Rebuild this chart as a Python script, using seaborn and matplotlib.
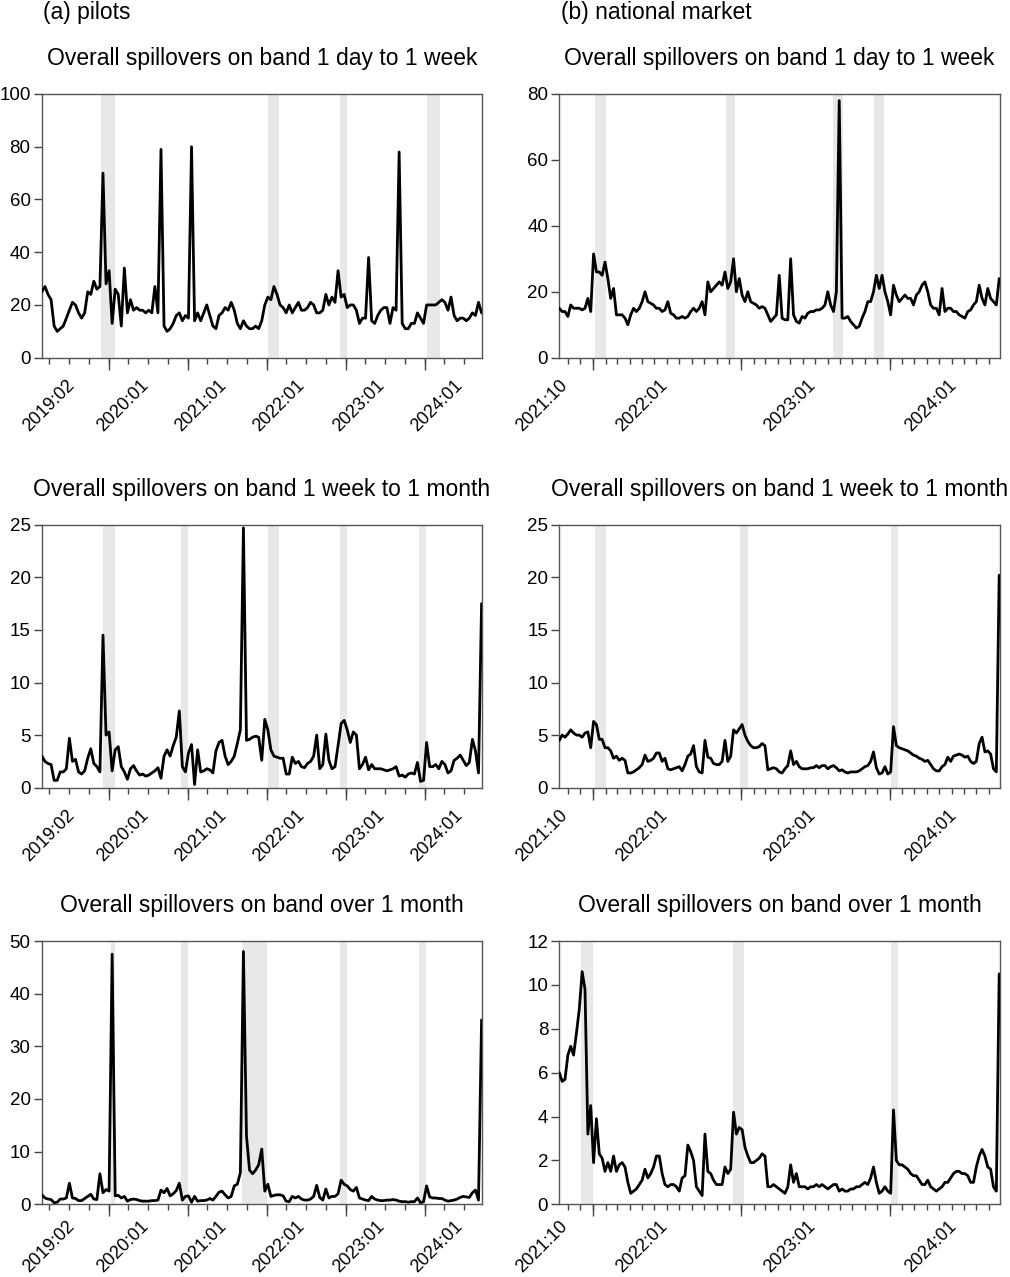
import pandas as pd
import matplotlib
matplotlib.use("Agg")
import matplotlib.pyplot as plt
import matplotlib.dates as mdates
import seaborn as sns

sns.set_theme(style="white")
plt.rcParams["font.family"] = ["Liberation Sans", "DejaVu Sans"]
plt.rcParams["text.color"] = "black"
plt.rcParams["xtick.color"] = "#444444"
plt.rcParams["ytick.color"] = "#444444"
plt.rcParams["xtick.labelcolor"] = "black"
plt.rcParams["ytick.labelcolor"] = "black"

# ---- dates (bi-weekly for pilots, weekly for national market) ----
pilot_dates = pd.date_range("2019-02-27", "2024-09-20", periods=145)
national_dates = pd.date_range("2021-10-10", "2024-09-26", periods=155)

# ---- (a) pilots ----
pilot_short = [
    25, 27, 24, 22, 12, 10, 11, 12, 15, 18, 21, 20, 17, 15, 17, 25, 24, 29, 26, 27,
    70, 28, 33, 13, 26, 24, 12, 34, 17, 22, 18, 19, 18, 18, 17, 18, 17, 27, 17, 79,
    12, 10, 11, 13, 16, 17, 14, 16, 15, 80, 14, 17, 14, 17, 20, 16, 12, 11, 16, 17,
    19, 18, 21, 18, 13, 11, 14, 12, 11, 11, 12, 11, 14, 20, 23, 22, 27, 24, 20, 19,
    17, 20, 17, 19, 21, 18, 18, 19, 21, 20, 17, 17, 18, 24, 20, 23, 21, 33, 23, 24,
    19, 20, 20, 18, 13, 15, 15, 38, 14, 13, 16, 18, 19, 19, 13, 19, 18, 78, 13, 11,
    11, 13, 13, 17, 15, 13, 20, 20, 20, 20, 21, 22, 21, 18, 23, 16, 14, 15, 15, 14,
    15, 17, 16, 21, 17,
]
pilot_mid = [
    3.0, 2.5, 2.3, 2.2, 0.7, 0.7, 1.5, 1.5, 1.8, 4.7, 2.5, 2.7, 1.5, 1.3, 1.6, 2.8, 3.7, 2.3, 2.0, 1.5,
    14.5, 5.0, 5.3, 1.6, 3.6, 3.9, 2.0, 1.5, 0.8, 1.8, 2.1, 1.6, 1.2, 1.3, 1.1, 1.2, 1.4, 1.6, 1.9, 0.9,
    3.0, 3.6, 3.0, 4.0, 4.8, 7.3, 2.0, 1.5, 3.3, 4.1, 0.3, 3.6, 1.5, 1.6, 1.8, 1.7, 1.4, 3.5, 4.3, 4.5,
    3.0, 2.2, 2.5, 3.0, 4.2, 5.5, 24.7, 4.5, 4.6, 4.8, 4.9, 4.8, 2.6, 6.5, 5.5, 3.6, 3.0, 2.9, 2.8, 2.8,
    1.3, 1.3, 2.9, 2.3, 2.5, 2.0, 1.9, 2.3, 2.5, 3.0, 5.0, 1.8, 2.2, 5.1, 2.6, 1.8, 2.0, 4.0, 6.1, 6.4,
    5.5, 4.3, 5.3, 5.0, 1.8, 2.2, 2.9, 1.7, 2.2, 1.8, 1.8, 1.8, 1.7, 1.6, 1.7, 1.8, 2.0, 1.1, 1.2, 1.0,
    1.3, 1.4, 1.3, 2.4, 0.6, 0.7, 4.3, 2.0, 2.0, 2.2, 1.8, 2.5, 2.2, 1.4, 1.6, 2.6, 2.8, 3.1, 2.6, 2.1,
    2.4, 4.6, 3.5, 1.4, 17.5,
]
pilot_long = [
    1.8, 1.2, 1.0, 0.9, 0.3, 0.4, 1.0, 1.0, 1.2, 4.0, 1.2, 1.1, 0.7, 0.7, 1.1, 1.5, 1.9, 1.0, 0.9, 5.8,
    2.2, 2.8, 2.5, 47.5, 1.6, 1.7, 1.2, 1.5, 0.6, 0.9, 1.0, 0.9, 0.7, 0.6, 0.6, 0.6, 0.7, 0.7, 0.8, 2.7,
    2.2, 3.0, 1.6, 2.0, 2.6, 4.0, 0.8, 1.5, 1.6, 0.4, 1.5, 0.6, 0.7, 0.7, 0.8, 1.1, 0.8, 1.5, 2.3, 2.5,
    1.8, 1.2, 1.5, 3.5, 3.8, 6.0, 48.0, 13.0, 6.5, 5.8, 6.5, 7.5, 10.5, 2.5, 3.8, 1.5, 1.7, 1.8, 1.8, 1.6,
    0.6, 0.5, 1.5, 1.2, 1.5, 1.0, 0.8, 0.8, 1.0, 1.5, 3.6, 1.3, 0.8, 2.9, 1.2, 1.5, 1.5, 2.0, 4.6, 3.8,
    3.5, 2.8, 2.5, 3.2, 1.2, 1.0, 0.8, 0.7, 1.5, 1.0, 0.8, 0.7, 0.7, 0.8, 0.8, 0.9, 0.8, 0.6, 0.5, 0.5,
    0.4, 0.5, 0.5, 1.2, 0.3, 0.5, 3.5, 1.4, 1.2, 1.2, 1.1, 1.1, 0.8, 0.6, 0.7, 0.8, 1.0, 1.3, 1.5, 1.4,
    1.3, 2.2, 2.7, 0.8, 35.0,
]

# ---- (b) national market ----
national_short = [
    15, 14, 14, 12.5, 16, 15, 15, 15, 14.5, 15, 18, 14, 31.5, 26, 26, 25, 29, 24, 18, 21,
    13, 13, 13, 12, 10, 13, 15, 14, 15, 17, 20, 17, 16.5, 16, 15, 15, 14, 14.5, 17, 13.5,
    13, 12, 12, 12.5, 12, 12.5, 14, 15, 14, 15, 17, 13, 23, 20, 21, 22, 23, 22, 26, 21,
    23, 30, 20, 24, 19, 17, 20, 17, 16.5, 16, 15, 15.5, 15, 13, 11, 12, 13, 25, 12, 11.5,
    11.5, 30, 13, 11, 10.5, 12.5, 12, 13.5, 14, 14, 14.5, 14.5, 15, 16, 20, 16, 14, 20, 78, 12,
    12, 12.5, 11, 10, 9, 9.5, 12, 14, 17, 17, 20, 25, 21, 25, 20, 17, 13, 22, 19, 17,
    18, 19, 18, 18, 16, 19, 20, 22, 23, 20, 16, 15, 15, 13, 21, 14, 15, 15, 14, 14,
    13, 12.5, 12, 14, 14.5, 16, 17, 22, 18, 16, 21, 18, 17, 16, 24,
]
national_mid = [
    4.5, 5.0, 4.8, 5.1, 5.5, 5.2, 5.0, 5.0, 4.8, 5.2, 5.3, 3.8, 6.3, 6.0, 4.6, 4.6, 3.8, 3.8, 3.5, 2.8,
    3.0, 2.6, 2.8, 2.6, 1.4, 1.4, 1.5, 1.7, 1.9, 2.2, 3.1, 2.5, 2.6, 2.8, 3.3, 3.3, 2.5, 2.8, 1.8, 1.7,
    1.8, 1.9, 2.0, 1.6, 2.2, 3.0, 3.2, 4.0, 2.0, 1.5, 1.4, 4.5, 2.9, 2.8, 2.3, 2.2, 2.2, 2.5, 4.5, 2.5,
    3.0, 5.5, 5.2, 5.6, 6.0, 5.0, 4.4, 4.0, 3.8, 3.8, 3.9, 4.2, 4.0, 1.7, 1.8, 1.9, 1.8, 1.5, 1.4, 1.8,
    2.1, 3.5, 2.2, 2.5, 2.0, 1.8, 1.8, 1.8, 1.9, 1.9, 2.1, 1.9, 2.1, 2.1, 1.8, 2.0, 2.1, 1.9, 1.6, 1.7,
    1.5, 1.4, 1.5, 1.5, 1.5, 1.6, 1.8, 2.0, 2.1, 2.5, 3.4, 1.9, 1.3, 1.4, 2.0, 1.3, 1.5, 5.8, 4.0, 3.8,
    3.7, 3.6, 3.5, 3.3, 3.1, 3.0, 2.8, 2.7, 2.5, 2.6, 2.2, 1.8, 1.6, 1.6, 2.0, 2.2, 2.9, 2.5, 3.0, 3.1,
    3.2, 3.1, 2.9, 3.0, 2.5, 2.3, 2.5, 4.2, 4.8, 3.4, 3.5, 3.2, 1.8, 1.5, 20.2,
]
national_long = [
    6.0, 5.6, 5.7, 6.8, 7.2, 6.8, 7.8, 8.9, 10.6, 9.8, 3.2, 4.5, 1.9, 3.9, 2.3, 2.1, 1.5, 1.9, 1.5, 2.2,
    1.5, 1.8, 1.9, 1.7, 1.0, 0.5, 0.6, 0.7, 0.9, 1.1, 1.6, 1.2, 1.4, 1.7, 2.2, 2.2, 1.4, 0.9, 0.8, 0.9,
    0.9, 0.8, 0.6, 1.2, 1.3, 2.7, 2.4, 2.0, 0.8, 0.6, 0.4, 3.2, 1.5, 1.4, 1.1, 0.9, 0.9, 0.9, 1.7, 1.4,
    1.6, 4.2, 3.2, 3.5, 3.4, 2.6, 2.2, 1.9, 1.9, 2.0, 2.1, 2.3, 2.2, 0.8, 0.8, 0.9, 0.8, 0.7, 0.6, 0.5,
    0.8, 1.8, 1.0, 1.4, 0.8, 0.8, 0.8, 0.7, 0.8, 0.8, 0.9, 0.8, 0.9, 0.8, 0.7, 0.8, 0.9, 0.9, 0.6, 0.7,
    0.6, 0.6, 0.7, 0.7, 0.8, 0.8, 0.9, 1.0, 0.9, 1.2, 1.7, 1.0, 0.5, 0.6, 0.8, 0.6, 0.5, 4.3, 2.0, 1.8,
    1.8, 1.7, 1.6, 1.4, 1.3, 1.3, 1.1, 0.9, 0.9, 1.1, 0.8, 0.7, 0.6, 0.7, 0.8, 1.0, 1.0, 1.2, 1.4, 1.5,
    1.5, 1.4, 1.4, 1.3, 1.0, 1.0, 1.7, 2.2, 2.5, 2.2, 1.7, 1.6, 0.8, 0.6, 10.5,
]

# ---- shaded periods ----
bands_pilot_short = [("2019-11-25", "2020-01-30"), ("2022-01-07", "2022-02-25"),
                     ("2022-12-05", "2023-01-09"), ("2024-01-12", "2024-03-14")]
bands_pilot_mid = [("2019-12-08", "2020-01-30"), ("2020-12-01", "2021-01-02"),
                   ("2022-01-07", "2022-02-25"), ("2022-12-05", "2023-01-09"),
                   ("2023-12-08", "2024-01-09")]
bands_pilot_long = [("2020-01-10", "2020-01-31"), ("2020-12-01", "2021-01-02"),
                    ("2021-09-09", "2022-01-04"), ("2022-12-05", "2023-01-09"),
                    ("2023-12-08", "2024-01-09")]
bands_nat_short = [("2022-01-06", "2022-02-03"), ("2022-11-24", "2022-12-17"),
                   ("2023-08-15", "2023-09-09"), ("2023-11-23", "2023-12-17")]
bands_nat_mid = [("2022-01-06", "2022-02-03"), ("2022-12-28", "2023-01-17"),
                 ("2024-01-05", "2024-01-22")]
bands_nat_long = [("2021-12-03", "2021-12-31"), ("2022-12-11", "2023-01-07"),
                  ("2024-01-05", "2024-01-22")]

# ---- axis ticks ----
pilot_xlim = ("2019-02-26", "2024-09-22")
pilot_minor = pd.date_range("2019-04-01", "2024-07-01", freq="QS")
pilot_years = pd.date_range("2020-01-01", "2024-01-01", freq="YS")
pilot_label_pos = pd.to_datetime(["2019-08-15", "2020-07-18", "2021-07-16",
                                  "2022-07-12", "2023-07-16", "2024-07-12"])
pilot_labels = ["2019:02", "2020:01", "2021:01", "2022:01", "2023:01", "2024:01"]

nat_xlim = ("2021-10-10", "2024-09-28")
nat_minor = pd.date_range("2021-11-01", "2024-09-01", freq="MS")
nat_years = pd.date_range("2022-01-01", "2024-01-01", freq="YS")
nat_label_pos = pd.to_datetime(["2021-11-09", "2022-07-12", "2023-07-12", "2024-06-21"])
nat_labels = ["2021:10", "2022:01", "2023:01", "2024:01"]

titles = ["Overall spillovers on band 1 day to 1 week",
          "Overall spillovers on band 1 week to 1 month",
          "Overall spillovers on band over 1 month"]

W, H = 1010, 1277
fig = plt.figure(figsize=(W / 100, H / 100), dpi=100)


def px_axes(left, top, right, bottom):
    return fig.add_axes([left / W, 1 - bottom / H, (right - left) / W, (bottom - top) / H])


rows = [(94, 357.7), (524.7, 787.7), (941, 1204.3)]
cols = [(41.7, 482), (559.3, 1000)]
label_pad = [14, 14, 9.5]

panels = [
    (0, 0, pilot_dates, pilot_short, bands_pilot_short, (0, 100), range(0, 101, 20), "pilot"),
    (0, 1, national_dates, national_short, bands_nat_short, (0, 80), range(0, 81, 20), "nat"),
    (1, 0, pilot_dates, pilot_mid, bands_pilot_mid, (0, 25), range(0, 26, 5), "pilot"),
    (1, 1, national_dates, national_mid, bands_nat_mid, (0, 25), range(0, 26, 5), "nat"),
    (2, 0, pilot_dates, pilot_long, bands_pilot_long, (0, 50), range(0, 51, 10), "pilot"),
    (2, 1, national_dates, national_long, bands_nat_long, (0, 12), range(0, 13, 2), "nat"),
]

for r, c, dates, vals, bands, ylim, yticks, kind in panels:
    top, bottom = rows[r]
    left, right = cols[c]
    ax = px_axes(left, top, right, bottom)

    for start, end in bands:
        ax.axvspan(pd.Timestamp(start), pd.Timestamp(end), color="#e8e8e8", lw=0, zorder=0)

    sns.lineplot(x=dates, y=vals, ax=ax, color="black", linewidth=2.0, zorder=3)

    if kind == "pilot":
        xlim, minor, years, lpos, labs = pilot_xlim, pilot_minor, pilot_years, pilot_label_pos, pilot_labels
    else:
        xlim, minor, years, lpos, labs = nat_xlim, nat_minor, nat_years, nat_label_pos, nat_labels

    ax.set_xlim(pd.Timestamp(xlim[0]), pd.Timestamp(xlim[1]))
    ax.set_ylim(*ylim)
    ax.set_yticks(list(yticks))
    ax.set_xlabel("")
    ax.set_ylabel("")

    # year labels sit in the middle of each year span, short ticks for months/quarters
    ax.xaxis.remove_overlapping_locs = False
    ax.set_xticks(lpos)
    ax.set_xticklabels(labs, rotation=45, ha="right", va="top", fontsize=13)
    ax.set_xticks(minor, minor=True)
    ax.tick_params(axis="x", which="major", length=0, pad=label_pad[r], bottom=True)
    ax.tick_params(axis="x", which="minor", length=4.5, width=1, direction="out", bottom=True)
    ax.tick_params(axis="y", which="major", length=6, width=1, direction="out", left=True,
                   labelsize=13.5, pad=2)

    sec = ax.secondary_xaxis("bottom")
    sec.set_xticks(mdates.date2num(years))
    sec.tick_params(axis="x", length=8.5, width=1, direction="out", labelbottom=False, bottom=True)
    sec.spines["bottom"].set_visible(False)

    for sp in ax.spines.values():
        sp.set_color("#555555")
        sp.set_linewidth(1.0)

    ax.set_title(titles[r], fontsize=16.5, pad=21)

fig.text(43 / W, 1 - 12 / H, "(a) pilots", fontsize=16.5, ha="left", va="center")
fig.text(561 / W, 1 - 12 / H, "(b) national market", fontsize=16.5, ha="left", va="center")

fig.savefig("out.png", dpi=100)
